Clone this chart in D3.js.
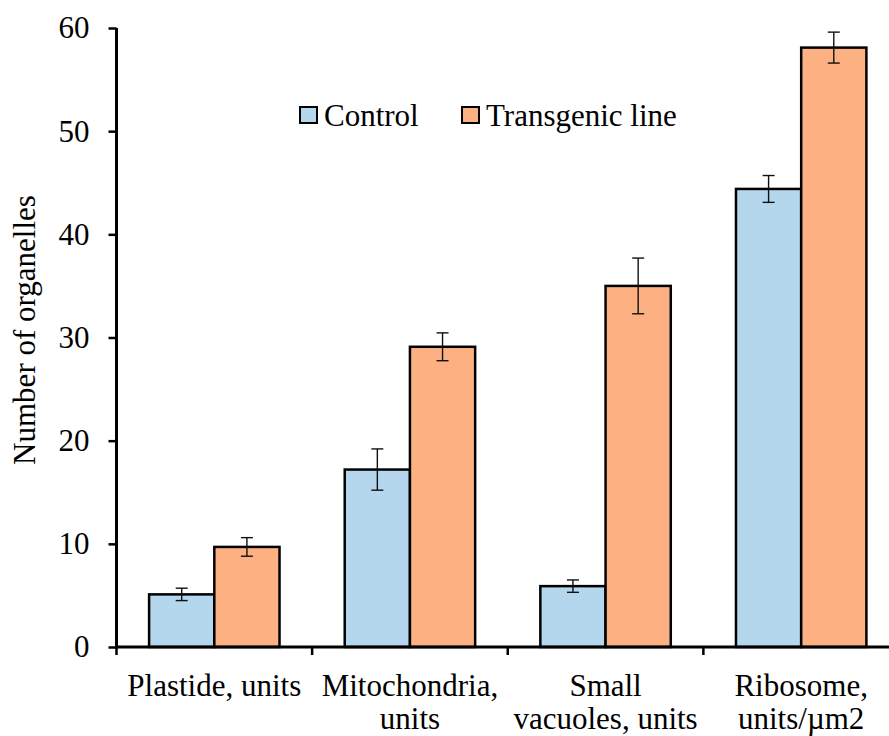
<!DOCTYPE html>
<html><head><meta charset="utf-8">
<script src="https://cdn.jsdelivr.net/npm/d3@7"></script>
<style>body{margin:0;background:#fff}svg{display:block}</style>
</head><body>
<script>
const categories = [["Plastide, units"], ["Mitochondria,", "units"], ["Small", "vacuoles, units"], ["Ribosome,", "units/\u00b5m2"]];
const seriesNames = ["Control", "Transgenic line"];
const controlValues = [5.1, 17.2, 5.9, 44.4];
const controlErrors = [0.6, 2.0, 0.6, 1.3];
const transgenicValues = [9.7, 29.1, 35.0, 58.1];
const transgenicErrors = [0.9, 1.35, 2.7, 1.5];
const yTicks = [0, 10, 20, 30, 40, 50, 60];
const colors = ["#B4D7EE", "#FDB183"];

(function () {
const W = 889, H = 736;
const svg = d3.select("body").append("svg").attr("width", W).attr("height", H);
const mLeft = 116.5, mBottom = 647, mTop = 28, mRight = 899;
const font = "'Liberation Serif','Times New Roman',serif";

const x = d3.scaleBand().domain(d3.range(categories.length)).range([mLeft, mRight]).paddingInner(0).paddingOuter(0);
const y = d3.scaleLinear().domain([0, 60]).range([mBottom, mTop]);
const xs = d3.scaleBand().domain([0, 1]).range([0, x.bandwidth()]).paddingInner(0).paddingOuter(0.5);

const series = [
  {vals: controlValues, errs: controlErrors},
  {vals: transgenicValues, errs: transgenicErrors}
];

const g = svg.append("g");
series.forEach((s, si) => {
  const grp = g.append("g");
  grp.selectAll("rect").data(s.vals).join("rect")
    .attr("x", (d, i) => x(i) + xs(si))
    .attr("y", d => y(d))
    .attr("width", xs.bandwidth())
    .attr("height", d => y(0) - y(d))
    .attr("fill", colors[si])
    .attr("stroke", "#000").attr("stroke-width", 2.5);
});
series.forEach((s, si) => {
  const eb = g.append("g").attr("stroke", "#111").attr("stroke-width", 1.4);
  s.vals.forEach((v, i) => {
    const cx = x(i) + xs(si) + xs.bandwidth() / 2;
    const e = s.errs[i];
    eb.append("line").attr("x1", cx).attr("x2", cx).attr("y1", y(v + e)).attr("y2", y(v - e));
    eb.append("line").attr("x1", cx - 6).attr("x2", cx + 6).attr("y1", y(v + e)).attr("y2", y(v + e));
    eb.append("line").attr("x1", cx - 6).attr("x2", cx + 6).attr("y1", y(v - e)).attr("y2", y(v - e));
  });
});

// Y axis
const yAxis = svg.append("g").attr("transform", `translate(${mLeft},0)`)
  .call(d3.axisLeft(y).tickValues(yTicks).tickSize(8).tickPadding(19));
yAxis.select(".domain").attr("stroke-width", 3).attr("d", `M0,${mBottom + 1.5}V${mTop}`);
yAxis.selectAll(".tick line").attr("stroke-width", 2.5);
yAxis.selectAll("text").attr("font-family", font).attr("font-size", 31).attr("fill", "#000");

// X axis
const xAxisG = svg.append("g").attr("transform", `translate(0,${mBottom})`);
xAxisG.append("line").attr("x1", mLeft - 1.5).attr("x2", W).attr("y1", 0).attr("y2", 0)
  .attr("stroke", "#000").attr("stroke-width", 3);
d3.range(categories.length + 1).forEach(i => {
  const tx = i < categories.length ? x(i) : mRight;
  xAxisG.append("line").attr("x1", tx).attr("x2", tx).attr("y1", 0).attr("y2", 8)
    .attr("stroke", "#000").attr("stroke-width", 2.5);
});
categories.forEach((lines, i) => {
  const t = svg.append("text").attr("text-anchor", "middle")
    .attr("font-family", font).attr("font-size", 31).attr("fill", "#000");
  lines.forEach((ln, j) => {
    t.append("tspan").attr("x", x(i) + x.bandwidth() / 2).attr("y", 696 + j * 33).text(ln);
  });
});

// Y title
svg.append("text").attr("transform", "translate(35,330) rotate(-90)")
  .attr("text-anchor", "middle").attr("font-family", font).attr("font-size", 31).attr("fill", "#000")
  .text("Number of organelles");

// Legend
const legendPos = [[300, 324], [462, 486]];
seriesNames.forEach((n, i) => {
  svg.append("rect").attr("x", legendPos[i][0]).attr("y", 107).attr("width", 17).attr("height", 16)
    .attr("fill", colors[i]).attr("stroke", "#000").attr("stroke-width", 2);
  svg.append("text").attr("x", legendPos[i][1]).attr("y", 126)
    .attr("font-family", font).attr("font-size", 31).attr("fill", "#000").text(n);
});
})();
</script>
</body></html>
